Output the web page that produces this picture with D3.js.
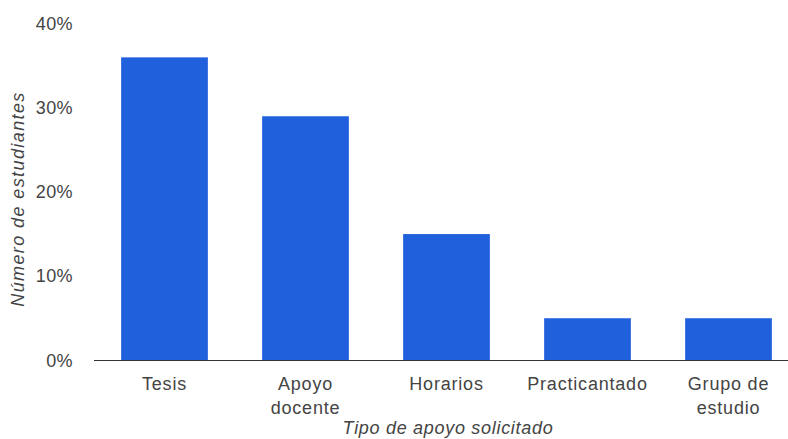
<!DOCTYPE html>
<html>
<head>
<meta charset="utf-8">
<script src="https://cdn.jsdelivr.net/npm/d3@7"></script>
<style>
  html, body { margin: 0; padding: 0; background: #fff; }
  svg { display: block; font-family: Arial, "Liberation Sans", sans-serif; }
</style>
</head>
<body>
<svg id="chart" width="788" height="439"></svg>
<script>
const categories = ["Tesis", "Apoyo docente", "Horarios", "Practicantado", "Grupo de estudio"];
const categoryLines = [["Tesis"], ["Apoyo", "docente"], ["Horarios"], ["Practicantado"], ["Grupo de", "estudio"]];
const values = [36, 29, 15, 5, 5];
const yTicks = [0, 10, 20, 30, 40];
const yTitle = "Número de estudiantes";
const xTitle = "Tipo de apoyo solicitado";

const svg = d3.select("#chart");
const x = d3.scaleBand().domain(categories).range([94, 799]).paddingInner(0.385).paddingOuter(0.1925);
const y = d3.scaleLinear().domain([0, 40]).range([360.3, 23.7]);

// bars
svg.append("g").selectAll("rect").data(values).join("rect")
  .attr("x", (d, i) => x(categories[i]))
  .attr("y", d => y(d))
  .attr("width", x.bandwidth())
  .attr("height", d => y(0) - y(d))
  .attr("fill", "#2060dc");

// baseline
svg.append("line")
  .attr("x1", 94).attr("x2", 788)
  .attr("y1", 360.5).attr("y2", 360.5)
  .attr("stroke", "#333").attr("stroke-width", 1.2);

// y axis
const yAxis = d3.axisLeft(y).tickValues(yTicks).tickFormat(d => d + "%").tickSize(0).tickPadding(0);
const gy = svg.append("g").attr("transform", "translate(73,0)").call(yAxis);
gy.select(".domain").remove();
gy.selectAll("text").attr("font-size", 18).attr("fill", "#444")
  .attr("letter-spacing", 0.4)
  .attr("font-family", "Arial, 'Liberation Sans', sans-serif");

// x axis labels
const xAxis = d3.axisBottom(x).tickSize(0).tickFormat("");
const gx = svg.append("g").attr("transform", "translate(0,360)").call(xAxis);
gx.select(".domain").remove();
gx.selectAll(".tick").each(function(d, i) {
  const t = d3.select(this).append("text")
    .attr("text-anchor", "middle")
    .attr("font-size", 18)
    .attr("fill", "#444")
    .attr("letter-spacing", 0.8)
    .attr("font-family", "Arial, 'Liberation Sans', sans-serif");
  categoryLines[i].forEach((line, j) => {
    t.append("tspan").attr("x", 0).attr("y", 30 + j * 24).text(line);
  });
});

// titles
svg.append("text")
  .attr("x", 448).attr("y", 434)
  .attr("text-anchor", "middle")
  .attr("font-size", 18).attr("font-style", "italic").attr("fill", "#444")
  .attr("letter-spacing", 0.7)
  .text(xTitle);

svg.append("text")
  .attr("transform", "translate(24,199) rotate(-90)")
  .attr("text-anchor", "middle")
  .attr("font-size", 18).attr("font-style", "italic").attr("fill", "#444")
  .attr("letter-spacing", 1.4)
  .text(yTitle);
</script>
</body>
</html>
